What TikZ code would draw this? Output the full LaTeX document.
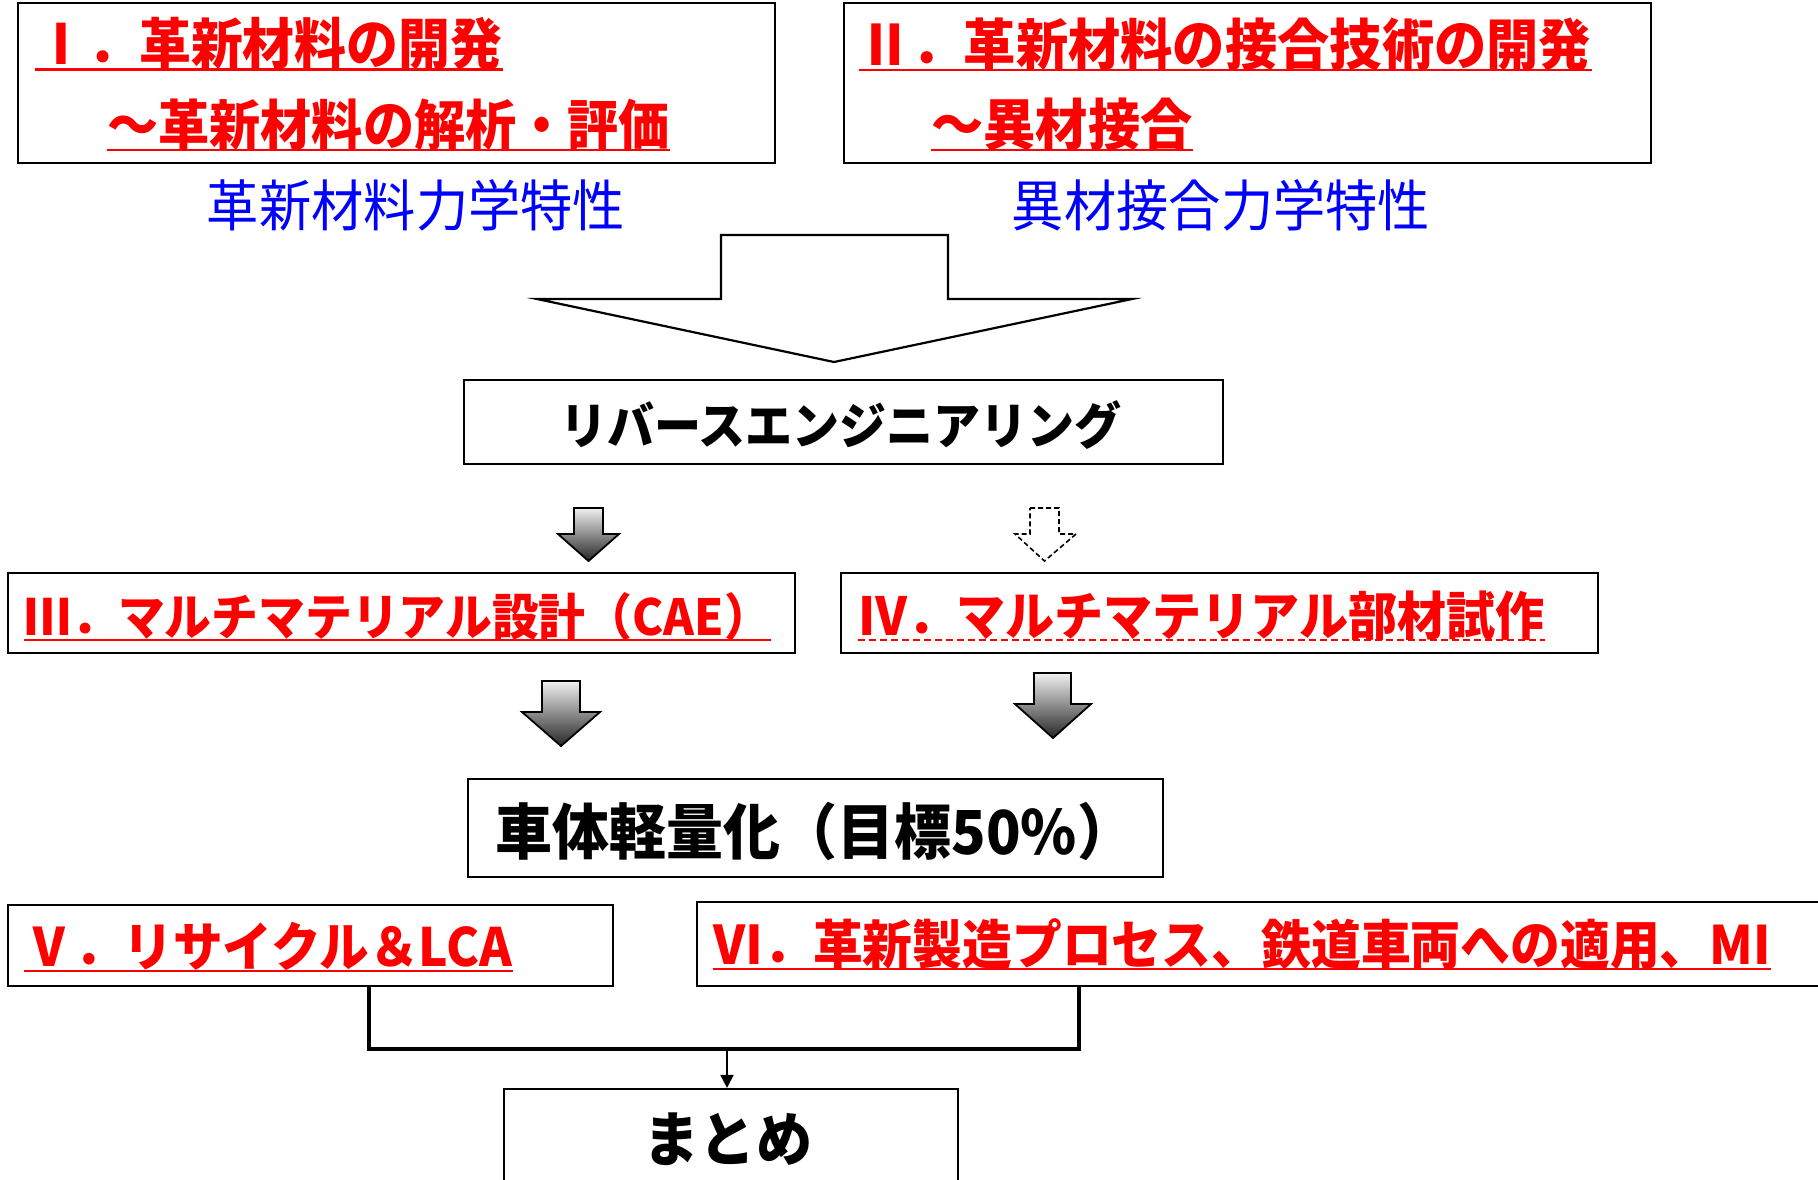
\documentclass[tikz,border=0pt]{standalone}
\usepackage{fontspec}
\newfontfamily\jp[FakeStretch=0.94]{Noto Sans CJK JP}
\usetikzlibrary{arrows.meta}
\definecolor{jred}{RGB}{255,0,0}
\definecolor{jblue}{RGB}{0,0,255}
\newcommand\fsz[1]{\fontsize{#1}{#1}\selectfont}
\tikzset{
  box/.style={draw=black, line width=1.1pt, inner sep=0pt, fill=white},
  rtxt/.style={inner sep=0pt, anchor=base west, text=jred, font=\jp\bfseries\fsz{#1}},
  btxt/.style={inner sep=0pt, anchor=base, text=jblue, font=\jp\fsz{#1}},
  ktxt/.style={inner sep=0pt, anchor=base, text=black, font=\jp\bfseries\fsz{#1}},
  uline/.style={draw=jred, line width=1.3pt},
  uldash/.style={draw=jred, line width=1.3pt, dash pattern=on 3.5pt off 2pt},
  bigarrow/.style={draw=black, line width=1.1pt, fill=white, line join=miter},
  garrow/.style={draw=black, line width=0.9pt, top color=gray!12, bottom color=black!85, line join=miter},
  darrow/.style={draw=black, line width=0.8pt, dash pattern=on 2.5pt off 1.5pt, fill=white},
  conn/.style={draw=black, line width=1.8pt, line join=miter},
  arr/.style={draw=black, line width=0.9pt, -{Triangle[width=6.5pt,length=6.5pt]}}
}
\begin{document}
\begin{tikzpicture}[x=0.5pt,y=-0.5pt]
\clip (0,0) rectangle (1818,1179);
\fill[white] (0,0) rectangle (1818,1179);

% boxes
\node[box, minimum width=378.5pt, minimum height=80pt] (b1) at (396.5,83) {};
\node[box, minimum width=403.5pt, minimum height=80pt] (b2) at (1247.5,83) {};
\node[box, minimum width=379.5pt, minimum height=42pt] (brev) at (843.5,422) {};
\node[box, minimum width=393.5pt, minimum height=40pt] (b3) at (401.5,613) {};
\node[box, minimum width=378.5pt, minimum height=40pt] (b4) at (1219.5,613) {};
\node[box, minimum width=347.5pt, minimum height=49pt] (bw) at (815.5,828) {};
\node[box, minimum width=302.5pt, minimum height=40.5pt] (b5) at (310.5,945.5) {};
\node[box, minimum width=566.5pt, minimum height=42pt] (b6) at (1263.5,944) {};
\node[box, minimum width=227pt, minimum height=55.5pt] (bm) at (731,1144.5) {};

% texts
\node[rtxt=27.6pt] (t1a) at (35,64.5) {Ⅰ．革新材料の開発};
\node[rtxt=27.2pt] (t1b) at (107,145) {～革新材料の解析・評価};
\node[rtxt=27.8pt] (t2a) at (859,65) {Ⅱ．革新材料の接合技術の開発};
\node[rtxt=27.8pt] (t2b) at (931,145) {～異材接合};
\node[btxt=27.8pt] (t1c) at (416,226) {革新材料力学特性};
\node[btxt=27.8pt] (t2c) at (1221,226) {異材接合力学特性};
\node[ktxt=25pt] (trev) at (841,444) {リバースエンジニアリング};
\node[rtxt=24.9pt] (t3) at (24,635) {Ⅲ．マルチマテリアル設計（CAE）};
\node[rtxt=26.1pt] (t4) at (858,635) {Ⅳ．マルチマテリアル部材試作};
\node[ktxt=30.3pt] (tw) at (815,854) {車体軽量化（目標50\%）};
\node[rtxt=26.4pt] (t5) at (24,966) {Ⅴ．リサイクル＆LCA};
\node[rtxt=26.5pt] (t6) at (713,964) {Ⅵ．革新製造プロセス、鉄道車両への適用、MI};
\node[ktxt=29.8pt] (tm) at (728,1161) {まとめ};

% underlines
\foreach \n in {t1a,t1b,t2a,t2b,t3,t5,t6}
  \draw[uline] ([yshift=-2.5pt]\n.base west) -- ([yshift=-2.5pt]\n.base east);
\draw[uldash] ([yshift=-2.5pt]t4.base west) -- ([yshift=-2.5pt]t4.base east);

% big hollow arrow
\draw[bigarrow] (721,235) -- (948,235) -- (948,299) -- (1132,299) -- (834,362)
  -- (537,299) -- (721,299) -- cycle;

% gray gradient arrows
\path[garrow] (574,508) -- (603,508) -- (603,534) -- (619,534) -- (588.5,561)
  -- (558,534) -- (574,534) -- cycle;
\path[garrow] (542,681) -- (580,681) -- (580,712) -- (600,712) -- (561,746)
  -- (522,712) -- (542,712) -- cycle;
\path[garrow] (1034,673) -- (1071,673) -- (1071,704) -- (1091,704) -- (1053,738)
  -- (1015,704) -- (1034,704) -- cycle;
% dashed arrow
\path[darrow] (1030,508) -- (1059,508) -- (1059,534) -- (1076,534) -- (1044.5,561)
  -- (1015,534) -- (1030,534) -- cycle;

% connectors
\coordinate (jl) at (369,1049);
\coordinate (jr) at (1079,1049);
\coordinate (jm) at (727,1049);
\draw[conn] (b5.south -| jl) -- (jl) -- (jr) -- (b6.south -| jr);
\draw[arr] (jm) -- (bm.north -| jm);
\end{tikzpicture}
\end{document}
